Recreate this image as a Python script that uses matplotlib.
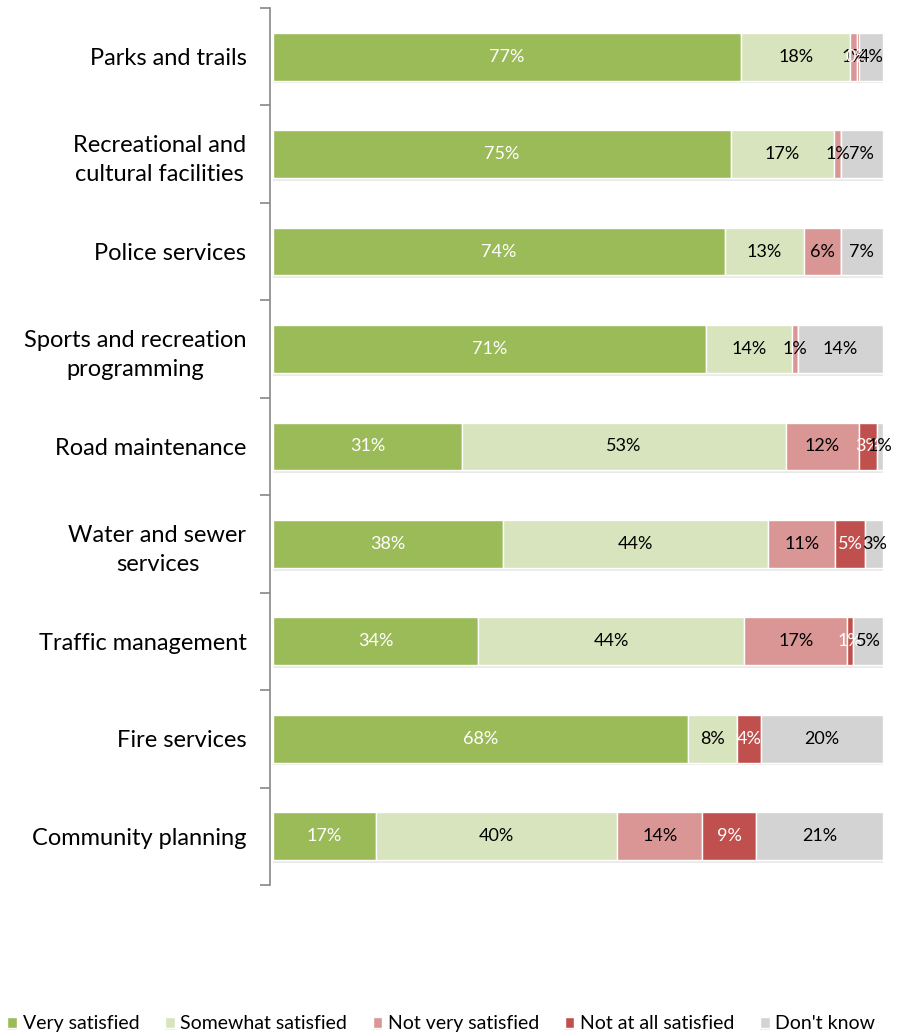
import matplotlib.pyplot as plt
import matplotlib.patheffects as pe
import numpy as np

plt.rcParams['font.family'] = ['Lato', 'DejaVu Sans']

# Datos (porcentajes por servicio)
categories = ["Parks and trails", "Recreational and\ncultural facilities",
              "Police services", "Sports and recreation\nprogramming",
              "Road maintenance", "Water and sewer\nservices",
              "Traffic management", "Fire services", "Community planning"]
very_satisfied = [77, 75, 74, 71, 31, 38, 34, 68, 17]
somewhat_satisfied = [18, 17, 13, 14, 53, 44, 44, 8, 40]
not_very_satisfied = [1, 1, 6, 1, 12, 11, 17, 0, 14]
not_at_all_satisfied = [0.4, 0, 0, 0, 3, 5, 1, 4, 9]
dont_know = [4, 7, 7, 14, 1, 3, 5, 20, 21]

series = ["Very satisfied", "Somewhat satisfied", "Not very satisfied",
          "Not at all satisfied", "Don't know"]
colors = ["#9BBB59", "#D7E4BD", "#D99694", "#C0504D", "#D3D3D3"]
text_colors = ["white", "black", "black", "white", "black"]

raw = np.array([very_satisfied, somewhat_satisfied, not_very_satisfied,
                not_at_all_satisfied, dont_know], dtype=float)
# barras al 100%
data = raw / raw.sum(axis=0) * 100

fig = plt.figure(figsize=(9.01, 10.33), dpi=100)
ax = fig.add_axes([0.2997, 0.1433, 0.6806, 0.849])

y = np.arange(len(categories))
left = np.zeros(len(categories))
shadow = [pe.SimplePatchShadow(offset=(0, -2), alpha=0.2, shadow_rgbFace="#999999"),
          pe.Normal()]
for i, name in enumerate(series):
    bars = ax.barh(y, data[i], left=left, height=0.49, color=colors[i],
                   edgecolor="white", linewidth=1, label=name,
                   path_effects=shadow)
    for j, b in enumerate(bars):
        v = raw[i][j]
        if v > 0:
            ax.text(left[j] + data[i][j] / 2, y[j], "%d%%" % round(v),
                    ha="center", va="center", fontsize=13,
                    color=text_colors[i])
    left += data[i]

ax.set_xlim(-0.5, 100)
ax.set_ylim(len(categories) - 0.5, -0.5)
ax.set_xticks([])
ax.set_yticks(y)
ax.set_yticklabels(categories, fontsize=17, linespacing=1.45)
for lab in ax.get_yticklabels():
    lab.set_multialignment("center")
ax.tick_params(axis="y", which="major", length=0, pad=17)
ax.set_yticks(np.arange(-0.5, len(categories)), minor=True)
ax.tick_params(axis="y", which="minor", length=7, color="#888888", width=1.2)
for s in ["top", "right", "bottom"]:
    ax.spines[s].set_visible(False)
ax.spines["left"].set_color("#888888")
ax.spines["left"].set_linewidth(1.2)

fig.legend(loc="lower center", bbox_to_anchor=(0.49, -0.016), ncol=5,
           frameon=False, fontsize=14, handlelength=0.5, handleheight=0.5,
           handletextpad=0.3, columnspacing=1.3)

fig.savefig("out.png", dpi=100)
